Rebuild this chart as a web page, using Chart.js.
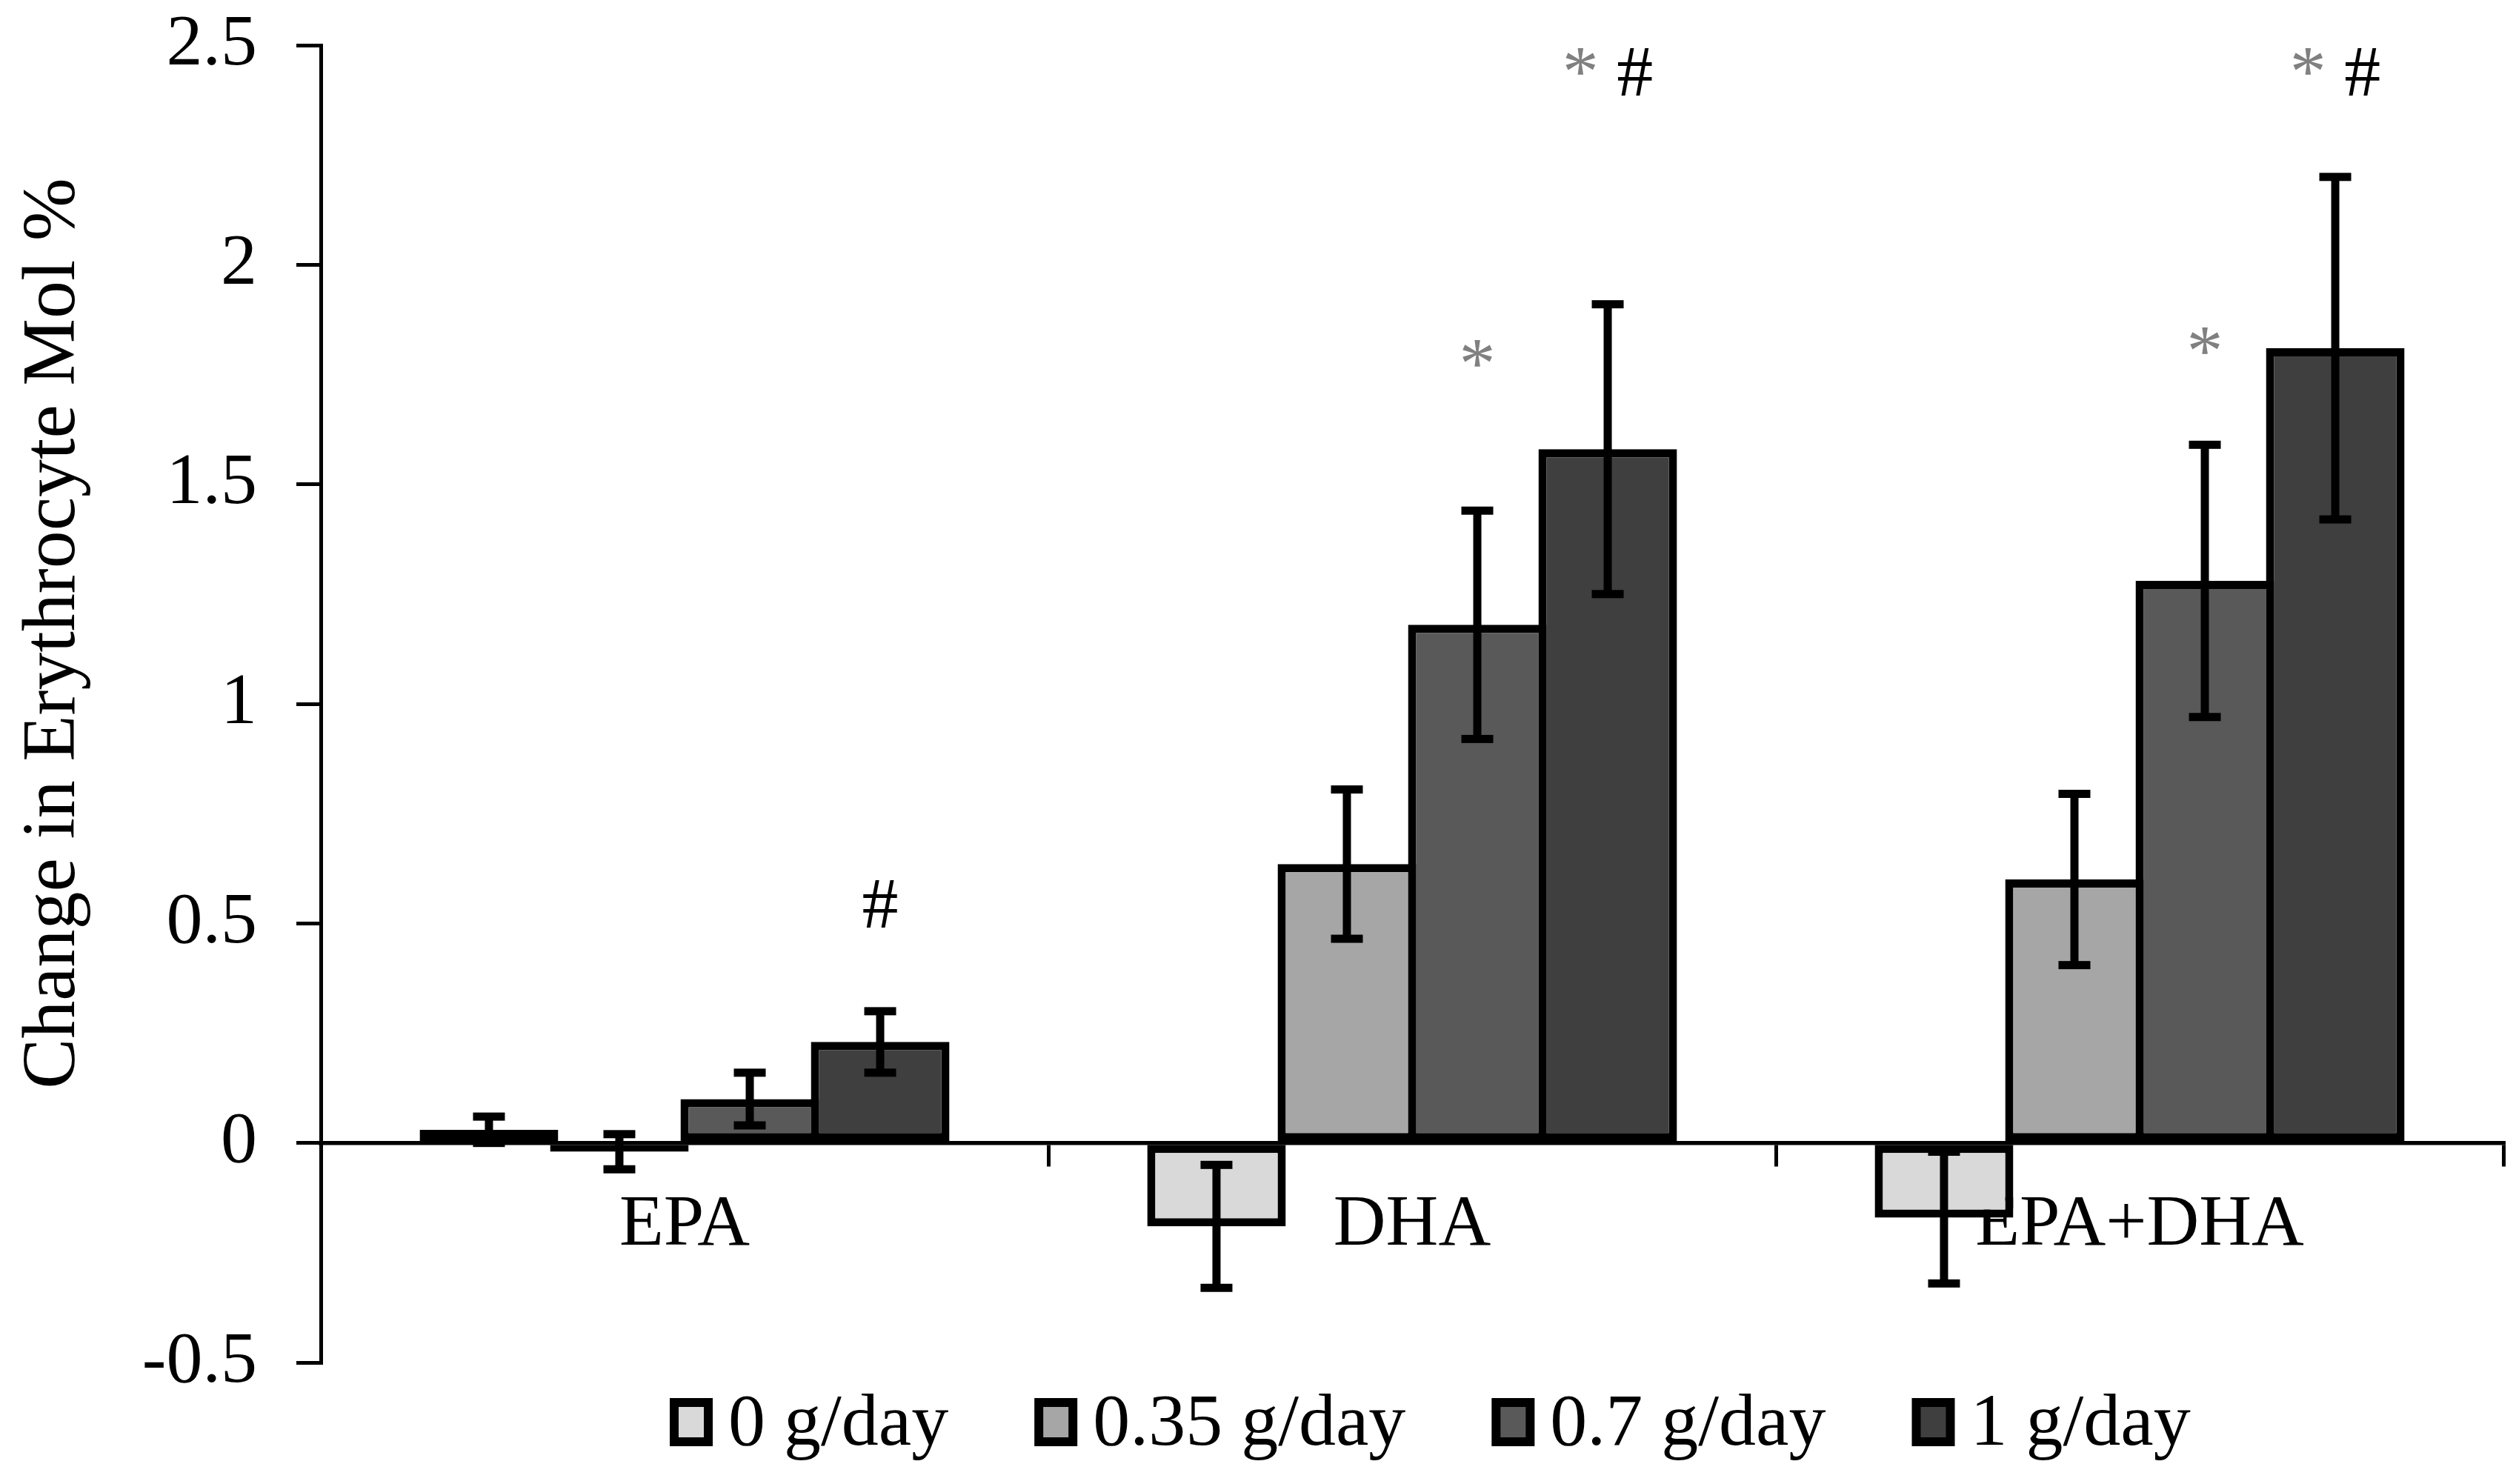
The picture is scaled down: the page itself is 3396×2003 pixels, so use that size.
<!DOCTYPE html>
<html>
<head>
<meta charset="utf-8">
<title>Change in Erythrocyte Mol %</title>
<script src="https://cdn.jsdelivr.net/npm/chart.js@4/dist/chart.umd.min.js"></script>
<style>
  html, body { margin: 0; padding: 0; background: #fff; }
  canvas { display: block; }
</style>
</head>
<body>
<canvas id="grafica" width="3396" height="2003"></canvas>
<script>
// datos
var categorias = ['EPA', 'DHA', 'EPA+DHA'];
var dosis = ['0 g/day', '0.35 g/day', '0.7 g/day', '1 g/day'];

var valores0   = [0.03, -0.19, -0.17];
var valores035 = [-0.02, 0.635, 0.60];
var valores07  = [0.10, 1.18, 1.28];
var valores1   = [0.23, 1.58, 1.81];

var error0   = [0.03, 0.14, 0.15];
var error035 = [0.04, 0.17, 0.195];
var error07  = [0.06, 0.26, 0.31];
var error1   = [0.07, 0.33, 0.39];

// marcas de significancia y su nivel (en unidades del eje y)
var signif07 = ['', '*', '*'];
var signif1  = ['#', '* #', '* #'];
var nivel07  = [null, 1.72, 1.75];
var nivel1   = [0.49, 2.385, 2.385];

var yTicks = ['-0.5', '0', '0.5', '1', '1.5', '2', '2.5'];
var tituloY = 'Change in Erythrocyte Mol %';

var fuente = "'Liberation Serif', 'Times New Roman', serif";
var colores = ['#d9d9d9', '#a6a6a6', '#595959', '#3f3f3f'];

var datasets = [
  { label: dosis[0], data: valores0,   errores: error0,   signif: null,     nivel: null },
  { label: dosis[1], data: valores035, errores: error035, signif: null,     nivel: null },
  { label: dosis[2], data: valores07,  errores: error07,  signif: signif07, nivel: nivel07 },
  { label: dosis[3], data: valores1,   errores: error1,   signif: signif1,  nivel: nivel1 }
];
datasets.forEach(function (ds, i) {
  ds.backgroundColor = colores[i];
  ds.borderColor = '#000';
  ds.borderWidth = 11;
  ds.borderSkipped = false;
  ds.barPercentage = 1.0625;
  ds.categoryPercentage = 0.717;
});

//- barras de error -
var barrasError = {
  id: 'barrasError',
  afterDatasetsDraw: function (chart) {
    var ctx = chart.ctx, y = chart.scales.y;
    ctx.save();
    ctx.fillStyle = '#000';
    chart.data.datasets.forEach(function (ds, i) {
      var meta = chart.getDatasetMeta(i);
      meta.data.forEach(function (bar, j) {
        var v = ds.data[j], e = ds.errores[j];
        var yArriba = y.getPixelForValue(v + e);
        var yAbajo = y.getPixelForValue(v - e);
        ctx.fillRect(bar.x - 5.5, yArriba, 11, yAbajo - yArriba);
        ctx.fillRect(bar.x - 21.5, yArriba - 5.5, 43, 11);
        ctx.fillRect(bar.x - 21.5, yAbajo - 5.5, 43, 11);
      });
    });
    ctx.restore();
  }
};

//- asteriscos y # -
var marcas = {
  id: 'marcas',
  afterDatasetsDraw: function (chart) {
    var ctx = chart.ctx, y = chart.scales.y;
    ctx.save();
    ctx.font = '98px ' + fuente;
    ctx.textBaseline = 'alphabetic';
    ctx.textAlign = 'left';
    chart.data.datasets.forEach(function (ds, i) {
      if (!ds.signif) return;
      var meta = chart.getDatasetMeta(i);
      meta.data.forEach(function (bar, j) {
        var txt = ds.signif[j];
        if (!txt) return;
        var base = y.getPixelForValue(ds.nivel[j]);
        var x = bar.x - ctx.measureText(txt).width / 2;
        for (var k = 0; k < txt.length; k++) {
          var c = txt.charAt(k);
          ctx.fillStyle = c === '*' ? '#808080' : '#000';
          ctx.fillText(c, x, base);
          x += ctx.measureText(c).width;
        }
      });
    });
    ctx.restore();
  }
};

//- titulo eje y y leyenda -
var extras = {
  id: 'extras',
  afterDraw: function (chart) {
    var ctx = chart.ctx, area = chart.chartArea;
    ctx.save();
    ctx.fillStyle = '#000';
    ctx.font = '102px ' + fuente;
    ctx.translate(100, 855);
    ctx.rotate(-Math.PI / 2);
    ctx.textAlign = 'center';
    ctx.textBaseline = 'alphabetic';
    ctx.fillText(tituloY, 0, 0);
    ctx.restore();

    ctx.save();
    ctx.font = '100px ' + fuente;
    ctx.textBaseline = 'alphabetic';
    ctx.textAlign = 'left';
    var x = area.left + 471;
    var top = area.bottom + 48;
    chart.data.datasets.forEach(function (ds) {
      ctx.fillStyle = '#000';
      ctx.fillRect(x, top, 58, 65);
      ctx.fillStyle = ds.backgroundColor;
      ctx.fillRect(x + 12, top + 12, 34, 41);
      ctx.fillStyle = '#000';
      ctx.fillText(ds.label, x + 79, top + 63);
      x += 79 + ctx.measureText(ds.label).width + 116;
    });
    ctx.restore();
  }
};

new Chart(document.getElementById('grafica'), {
  type: 'bar',
  data: { labels: categorias, datasets: datasets },
  options: {
    responsive: false,
    animation: false,
    devicePixelRatio: 1,
    layout: { padding: { left: 0, right: 17, top: 61, bottom: 164 } },
    plugins: {
      legend: { display: false },
      tooltip: { enabled: false }
    },
    scales: {
      x: {
        position: { y: 0 },
        offset: true,
        grid: { display: true, offset: true, drawOnChartArea: false, drawTicks: true, tickLength: 29, lineWidth: 5, color: '#000' },
        border: { display: true, color: '#000', width: 5.5 },
        ticks: { color: '#000', padding: 24, font: { family: fuente, size: 98 } }
      },
      y: {
        min: -0.5,
        max: 2.5,
        afterFit: function (s) {
          s.width = 433;
          s.paddingTop = 0;
          s.paddingBottom = 0;
        },
        grid: { drawOnChartArea: false, drawTicks: true, tickLength: 33, lineWidth: 5, color: '#000' },
        border: { display: true, color: '#000', width: 5 },
        ticks: {
          stepSize: 0.5,
          color: '#000',
          padding: 53,
          font: { family: fuente, size: 98 },
          callback: function (value, index) { return yTicks[index]; }
        }
      }
    }
  },
  plugins: [barrasError, marcas, extras]
});
</script>
</body>
</html>
